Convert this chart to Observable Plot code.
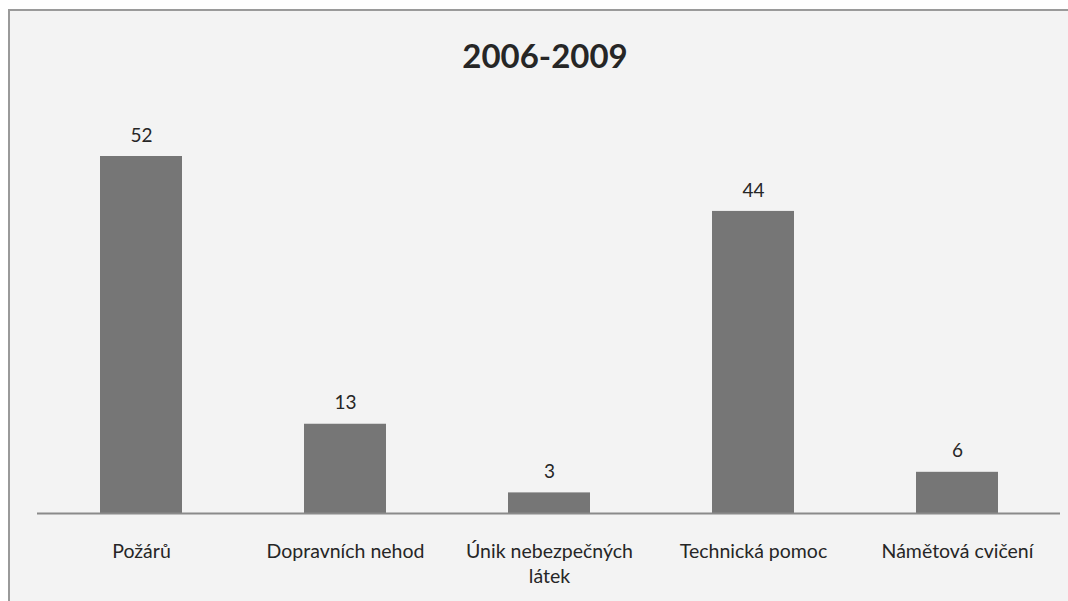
<!DOCTYPE html>
<html>
<head>
<meta charset="utf-8">
<script src="https://cdn.jsdelivr.net/npm/d3@7"></script>
<script src="https://cdn.jsdelivr.net/npm/@observablehq/plot@0.6"></script>
<style>
  html, body { margin: 0; padding: 0; background: #ffffff; overflow: hidden; }
  #frame { position: absolute; left: 0; top: 0; width: 1068px; height: 601px; }
  #panel { position: absolute; left: 8px; top: 9px; width: 1100px; height: 640px;
           background: #f3f3f3; border-left: 2px solid #9a9a9a; border-top: 2px solid #9a9a9a; }
  #title { position: absolute; left: 0; width: 1090px; top: 35px; text-align: center;
           font-family: Lato, sans-serif; font-weight: bold; font-size: 33px; color: #262626; }
  #chart { position: absolute; left: 0; top: 0; }
</style>
</head>
<body>
<div id="frame">
  <div id="panel"></div>
  <div id="title">2006-2009</div>
  <div id="chart"></div>
</div>
<script>
const categories = ["Požárů", "Dopravních nehod", "Únik nebezpečných\nlátek", "Technická pomoc", "Námětová cvičení"];
const values = [52, 13, 3, 44, 6];

const data = categories.map((c, i) => ({category: c, value: values[i]}));

const chart = Plot.plot({
  width: 1068,
  height: 601,
  marginLeft: 37,
  marginRight: 8,
  marginTop: 156,
  marginBottom: 88,
  style: {background: "transparent", fontFamily: "Lato, sans-serif"},
  x: {domain: categories, paddingInner: 0.6, paddingOuter: 0.3, label: null},
  y: {domain: [0, 52], axis: null},
  marks: [
    Plot.barY(data, {x: "category", y: "value", fill: "#767676"}),
    Plot.ruleY([0], {stroke: "#8a8a8a", strokeWidth: 2}),
    Plot.text(data, {x: "category", y: "value", text: d => String(d.value), dy: -21,
      fontSize: 19, fill: "#262626"}),
    Plot.axisX({tickSize: 0, tickPadding: 26, fontSize: 19.5, lineHeight: 1.3, fill: "#262626", label: null})
  ]
});
document.getElementById("chart").appendChild(chart);
</script>
</body>
</html>
